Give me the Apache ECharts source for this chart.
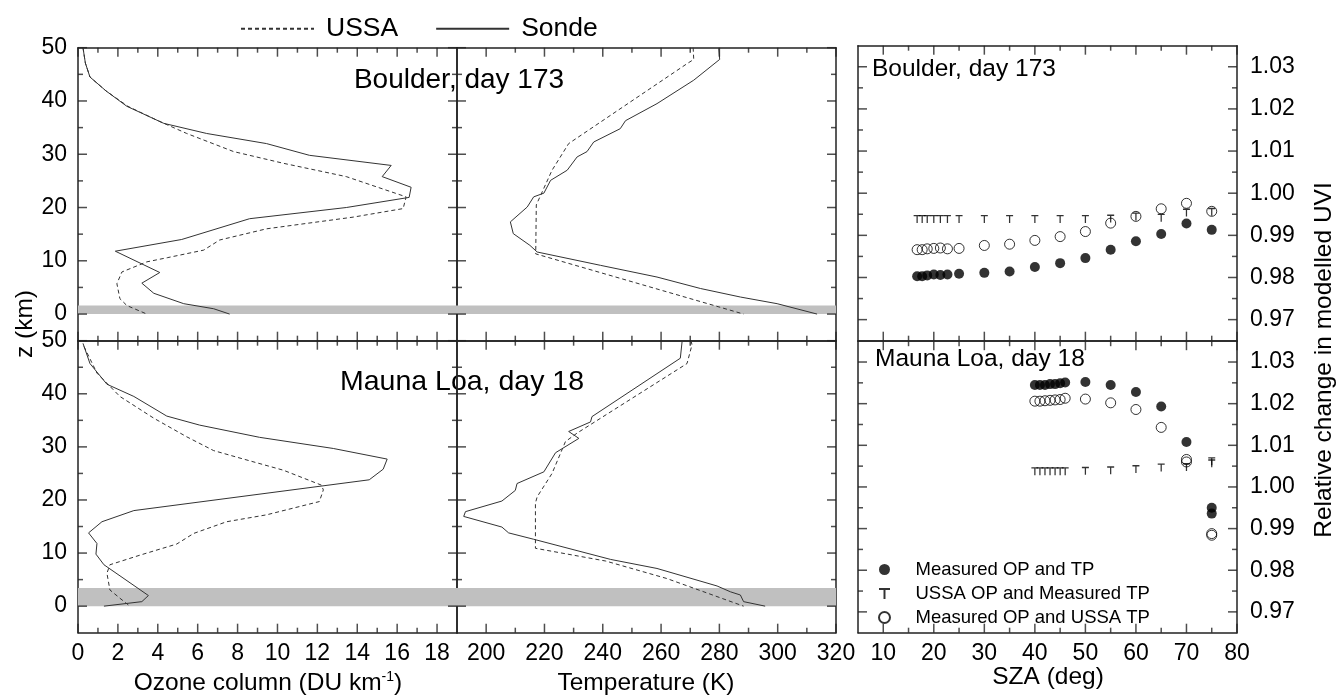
<!DOCTYPE html>
<html>
<head>
<meta charset="utf-8">
<script src="https://cdn.jsdelivr.net/npm/echarts@6/dist/echarts.min.js"></script>
<style>
  html, body { margin: 0; background: #fff; }
  #chart { width: 1337px; height: 696px; }
</style>
</head>
<body>
<div id="chart"></div>
<script>
// ozone profiles [DU/km, z km]
const boulderOzoneSonde = [[0.25,50],[0.37,47.1],[0.6,44.5],[1.4,41.9],[2.45,39],[4.3,35.8],[6.45,33.9],[9.45,32],[11.6,29.8],[15.7,27.9],[15.25,25.8],[16.7,23.8],[16.6,21.9],[13.45,20],[8.6,17.9],[5.2,14],[1.87,11.8],[4.1,7.8],[3.2,5.8],[3.8,3.9],[5.3,1.95],[6.8,1.0],[7.6,0]];
const boulderOzoneUssa = [[0.25,50],[0.37,47.1],[0.6,44.5],[1.4,41.9],[2.5,39],[3.95,36.4],[5.45,33.9],[7.8,30.5],[10.3,28.3],[13.45,25.8],[14.95,23.9],[16.45,22],[16.3,19.8],[13.8,18.2],[9.45,16],[7.1,13.9],[6.3,12],[4.5,10.6],[3.45,9.8],[2.2,7.9],[1.95,5.7],[2.1,2.9],[2.45,1.6],[3.45,0]];
const maunaOzoneSonde = [[0.25,49.5],[0.6,45.7],[1.45,41.8],[2.8,39.5],[4.45,35.8],[6.1,34.1],[9.1,31.8],[12.8,29.7],[15.5,27.7],[15.3,25.8],[14.6,23.8],[2.8,18],[1.2,15.9],[0.53,13.8],[0.95,11.8],[0.9,9.8],[1.3,7.8],[3.53,2],[3.2,0.85],[1.3,0]];
const maunaOzoneUssa = [[0.3,48.9],[0.95,43.9],[2.1,39.5],[3.8,35.4],[5.45,31.9],[6.8,29.3],[8.3,27.7],[10.3,25.6],[12.2,22.8],[12.3,21.9],[12.1,19.7],[9.45,17.2],[7.45,15.9],[5.8,13.7],[4.95,11.7],[3.1,9.6],[1.6,7.8],[1.45,6.2],[1.6,3.05],[2.1,1.5],[2.6,0]];

// temperature profiles [K, z km]
const boulderTempSonde = [[279.8,49.9],[280.1,47.8],[271.2,43.9],[258.6,39.5],[247.8,36.3],[246,34.8],[236.9,32.3],[234.6,30.5],[231.2,29.5],[227.8,27],[222.1,25.1],[219.8,22.7],[216.3,22],[214.1,20.1],[208.3,17.3],[209.3,15.1],[215,12.9],[217.5,11.65],[239.2,9.15],[258.6,6.95],[273.5,4.8],[287.2,3.2],[299.8,1.95],[313.5,0]];
const boulderTempUssa = [[271,50],[271.2,47.8],[268.9,47],[228.3,32],[222.6,27],[217.2,20.5],[217,11.3],[288.3,0]];
const maunaTempSonde = [[267.2,49.8],[266.6,46.7],[236.3,35.7],[235.8,34.7],[228.3,32.9],[231.8,31.6],[223.8,28.9],[219.8,25.3],[210.6,23.1],[210,21.8],[205.4,19.8],[192.9,17.8],[192.3,16.9],[205.4,14.9],[207.7,13.8],[216.3,12.6],[242.7,8.8],[258.6,7.1],[279.2,3.8],[283.8,2.7],[287.2,2.1],[288.3,0.85],[295.7,0]];
const maunaTempUssa = [[270.3,50],[270.6,49.2],[268.9,45.7],[231.2,32.6],[227.2,31],[222.6,25],[217.5,20.6],[216.9,19.4],[216.9,10.9],[241,8.5],[262,5.2],[288.3,0]];

// surface bands [z km]
const boulderSurface = [0, 1.6];
const maunaSurface = [0, 3.4];

// SZA panels
const boulderSza = [16.7,17.7,18.7,20,21.3,22.7,25,30,35,40,45,50,55,60,65,70,75];
const boulderMeasured = [0.9803,0.9803,0.9805,0.9807,0.9806,0.9807,0.9809,0.9811,0.9814,0.9825,0.9834,0.9846,0.9866,0.9886,0.9903,0.9928,0.9913];
const boulderUssaOp = [0.9939,0.9939,0.9939,0.9939,0.9939,0.9939,0.9939,0.9939,0.9939,0.9939,0.9939,0.9939,0.9940,0.9945,0.9942,0.9954,0.9956];
const boulderUssaTp = [0.9866,0.9866,0.9868,0.9869,0.9870,0.9868,0.9869,0.9876,0.9879,0.9888,0.9897,0.9909,0.9929,0.9945,0.9963,0.9976,0.9957];

const maunaSzaMeasured = [40,41,42,43,44,45,46,50,55,60,65,70,75,75];
const maunaMeasured = [1.0245,1.0245,1.0245,1.0247,1.0247,1.0249,1.0251,1.0252,1.0245,1.0228,1.0193,1.0108,0.9950,0.9936];
const maunaSzaUssaOp = [40,41,42,43,44,45,46,50,55,60,65,70,75,75];
const maunaUssaOp = [1.0038,1.0038,1.0038,1.0038,1.0038,1.0038,1.0038,1.0039,1.0040,1.0043,1.0047,1.0048,1.0062,1.0057];
const maunaSzaUssaTp = [40,41,42,43,44,45,46,50,55,60,65,70,70,75,75];
const maunaUssaTp = [1.0206,1.0206,1.0207,1.0208,1.0209,1.0210,1.0213,1.0211,1.0202,1.0186,1.0143,1.0066,1.0060,0.9888,0.9884];

// ticks
const ozoneTicks = [0,2,4,6,8,10,12,14,16,18];
const ozoneMinor = [1,3,5,7,9,11,13,15,17];
const tempTicks = [200,220,240,260,280,300,320];
const tempMinor = [210,230,250,270,290,310];
const zTicks = [0,10,20,30,40,50];
const zMinor = [5,15,25,35,45];
const szaTicks = [10,20,30,40,50,60,70,80];
const szaMinor = [15,25,35,45,55,65,75];
const uviTicks = [0.97,0.98,0.99,1.00,1.01,1.02,1.03];
const uviMinor = [0.975,0.985,0.995,1.005,1.015,1.025];

const FONT = '"Liberation Sans", Arial, sans-serif';
const INK = '#222';

const ozone = { min: 0, max: 19, major: ozoneTicks, minor: ozoneMinor };
const temp = { min: 190, max: 320, major: tempTicks, minor: tempMinor };
const zkm = { min: -5, max: 50, major: zTicks, minor: zMinor };
const sza = { min: 5, max: 80, major: szaTicks, minor: szaMinor };
const uvi = { min: 0.965, max: 1.035, major: uviTicks, minor: uviMinor };

const grids = [
  { left: 78, top: 47.7, width: 379, height: 293 },
  { left: 457, top: 47.7, width: 379, height: 293 },
  { left: 78, top: 340.7, width: 379, height: 292 },
  { left: 457, top: 340.7, width: 379, height: 292 },
  { left: 858, top: 45.7, width: 379, height: 295 },
  { left: 858, top: 341.2, width: 379, height: 291.5 }
];

const panels = [
  { x: ozone, y: zkm, xLab: false, yLab: 'left' },
  { x: temp, y: zkm, xLab: false, yLab: null },
  { x: ozone, y: zkm, xLab: true, yLab: 'left' },
  { x: temp, y: zkm, xLab: true, yLab: null },
  { x: sza, y: uvi, xLab: false, yLab: 'right' },
  { x: sza, y: uvi, xLab: true, yLab: 'right' }
];

const xAxes = [], yAxes = [];
const axX = [], axY = [];

// one frame side: line + labels
function side(list, grid, position, spec, label) {
  list.push({
    gridIndex: grid, type: 'value', position: position,
    min: spec.min, max: spec.max,
    splitLine: { show: false },
    axisLine: { show: true, onZero: false, lineStyle: { color: INK, width: 1.5 } },
    axisTick: { show: false },
    axisLabel: label ? {
      show: true, customValues: spec.major, margin: label.margin,
      fontSize: 23, fontFamily: FONT, color: '#000',
      formatter: label.fmt || (v => String(v))
    } : { show: false }
  });
  return list.length - 1;
}

panels.forEach((p, g) => {
  axX[g] = side(xAxes, g, 'bottom', p.x, p.xLab ? { margin: 9 } : null);
  side(xAxes, g, 'top', p.x, null);
  axY[g] = side(yAxes, g, 'left', p.y, p.yLab === 'left' ? { margin: 11 } : null);
  side(yAxes, g, 'right', p.y, p.yLab === 'right' ? { margin: 13, fmt: v => v.toFixed(2) } : null);
});

// inward tick marks on all four frame sides, as thin rect symbols placed on the axes
function tickSeries(g) {
  const p = panels[g];
  const data = [];
  const add = (pt, size, off) => data.push({ value: pt, symbolSize: size, symbolOffset: off });
  [[p.x.major, 9], [p.x.minor, 5]].forEach(([vals, len]) => vals.forEach(v => {
    add([v, p.y.min], [1.5, len], [0, -len / 2]);
    add([v, p.y.max], [1.5, len], [0, len / 2]);
  }));
  [[p.y.major, 9], [p.y.minor, 5]].forEach(([vals, len]) => vals.forEach(v => {
    add([p.x.min, v], [len, 1.5], [len / 2, 0]);
    add([p.x.max, v], [len, 1.5], [-len / 2, 0]);
  }));
  return {
    type: 'scatter', data: data, xAxisIndex: axX[g], yAxisIndex: axY[g],
    symbol: 'rect', clip: false, silent: true, z: 5,
    itemStyle: { color: INK },
    emphasis: { disabled: true }
  };
}

function profile(name, data, g, dashed, band) {
  const s = {
    type: 'line', name: name, data: data,
    xAxisIndex: axX[g], yAxisIndex: axY[g],
    symbol: 'none', z: 3,
    lineStyle: { color: '#333', width: 1, type: dashed ? [4, 3] : 'solid' },
    itemStyle: { color: '#333' }
  };
  if (band) {
    s.markArea = {
      silent: true,
      itemStyle: { color: '#c0c0c0', opacity: 1 },
      data: [[{ yAxis: band[0] }, { yAxis: band[1] }]]
    };
  }
  return s;
}

const T_PATH = 'path://M0 0H10V1.8H5.9V10H4.1V1.8H0Z';

function zip(xs, ys) { return xs.map((x, i) => [x, ys[i]]); }

function dots(name, xs, ys, g, kind) {
  const s = {
    type: 'scatter', name: name, data: zip(xs, ys),
    xAxisIndex: axX[g], yAxisIndex: axY[g], z: 4
  };
  if (kind === 'filled') {
    s.symbol = 'circle'; s.symbolSize = 10;
    s.itemStyle = { color: '#000' };
  } else if (kind === 'open') {
    s.symbol = 'circle'; s.symbolSize = 10;
    s.itemStyle = { color: 'rgba(255,255,255,0)', borderColor: '#000', borderWidth: 1 };
  } else {
    s.symbol = T_PATH; s.symbolSize = [7, 8]; s.symbolKeepAspect = true;
    s.itemStyle = { color: '#000' };
  }
  return s;
}

const N1 = 'Measured OP and TP', N2 = 'USSA OP and Measured TP', N3 = 'Measured OP and USSA TP';

const series = [
  profile('Sonde', boulderOzoneSonde, 0, false, boulderSurface),
  profile('USSA', boulderOzoneUssa, 0, true),
  profile('Sonde', boulderTempSonde, 1, false, boulderSurface),
  profile('USSA', boulderTempUssa, 1, true),
  profile('Sonde', maunaOzoneSonde, 2, false, maunaSurface),
  profile('USSA', maunaOzoneUssa, 2, true),
  profile('Sonde', maunaTempSonde, 3, false, maunaSurface),
  profile('USSA', maunaTempUssa, 3, true),
  dots(N1, boulderSza, boulderMeasured, 4, 'filled'),
  dots(N2, boulderSza, boulderUssaOp, 4, 'tee'),
  dots(N3, boulderSza, boulderUssaTp, 4, 'open'),
  dots(N1, maunaSzaMeasured, maunaMeasured, 5, 'filled'),
  dots(N2, maunaSzaUssaOp, maunaUssaOp, 5, 'tee'),
  dots(N3, maunaSzaUssaTp, maunaUssaTp, 5, 'open')
];
panels.forEach((p, g) => series.push(tickSeries(g)));

function label(text, x, y, size, opts) {
  return Object.assign({
    type: 'text', x: x, y: y, silent: true,
    style: Object.assign({
      text: text, fontSize: size, fontFamily: FONT, fill: '#000',
      align: 'center', verticalAlign: 'middle'
    }, opts && opts.style)
  }, opts && opts.el);
}

const chart = echarts.init(document.getElementById('chart'), null, { renderer: 'canvas' });
chart.setOption({
  animation: false,
  backgroundColor: '#fff',
  grid: grids,
  xAxis: xAxes,
  yAxis: yAxes,
  legend: [
    {
      data: ['USSA', 'Sonde'], left: 235, top: 9.7,
      itemWidth: 73, itemHeight: 14, itemGap: 37,
      itemStyle: { opacity: 0 },
      textStyle: { fontSize: 26.5, fontFamily: FONT, color: '#000', lineHeight: 28, padding: [0, 0, 0, 7] }
    },
    {
      data: [N1, N2, N3], orient: 'vertical', left: 873, top: 554.5,
      itemWidth: 52, itemHeight: 11, itemGap: 4,
      textStyle: { fontSize: 18.5, fontFamily: FONT, color: '#000', lineHeight: 20 }
    }
  ],
  graphic: [
    label('Boulder, day 173', 459, 80, 28),
    label('Mauna Loa, day 18', 462, 382, 28.5),
    label('Boulder, day 173', 872, 69, 24.5, { style: { align: 'left' } }),
    label('Mauna Loa, day 18', 875, 359, 24.5, { style: { align: 'left' } }),
    label('z (km)', 25, 324, 24.5, { el: { rotation: Math.PI / 2 } }),
    label('Ozone column (DU km{s|-1})', 268, 683, 24.5, { style: { rich: { s: { fontSize: 14, fontFamily: FONT, verticalAlign: 'top', padding: [0, 0, 10, 0] } } } }),
    label('Temperature (K)', 646, 683, 24.5),
    label('SZA (deg)', 1048, 677, 24.5),
    label('Relative change in modelled UVI', 1324, 360, 24.5, { el: { rotation: Math.PI / 2 } })
  ],
  series: series
});
</script>
</body>
</html>
